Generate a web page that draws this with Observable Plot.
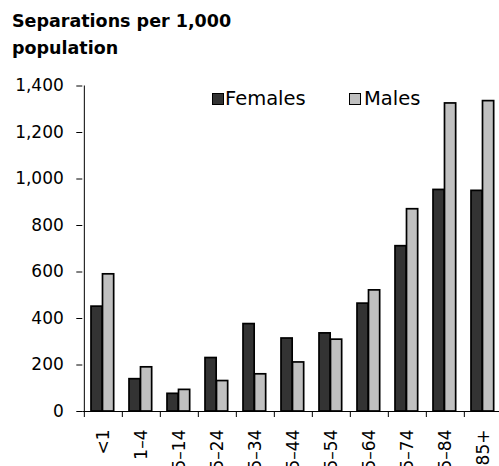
<!DOCTYPE html>
<html>
<head>
<meta charset="utf-8">
<script src="https://cdn.jsdelivr.net/npm/d3@7"></script>
<script src="https://cdn.jsdelivr.net/npm/@observablehq/plot@0.6"></script>
<style>
  body { margin: 0; background: white; }
  #wrap { position: relative; width: 499px; height: 466px; overflow: hidden; background: white; font-family: "DejaVu Sans", sans-serif; color: #000; }
  #title { position: absolute; left: 12px; top: 8.4px; font-weight: bold; font-size: 17.5px; line-height: 27px; white-space: nowrap; }
  #chart { position: absolute; left: 0; top: 62px; }
  .sw { position: absolute; width: 10px; height: 10px; border: 1.5px solid #000; }
  .lt { position: absolute; font-size: 19.5px; line-height: 20px; white-space: nowrap; }
</style>
</head>
<body>
<div id="wrap">
  <div id="title">Separations per 1,000<br>population</div>
  <div id="chart"></div>
</div>
<script>
const ages = ["<1", "1–4", "5–14", "15–24", "25–34", "35–44", "45–54", "55–64", "65–74", "75–84", "85+"];
const females = [451, 139, 76, 230, 376, 314, 336, 464, 711, 953, 949];
const males = [590, 190, 93, 131, 160, 211, 309, 521, 870, 1325, 1335];
const yTicks = [0, 200, 400, 600, 800, 1000, 1200, 1400];
const seriesNames = ["Females", "Males"];
const seriesColors = ["#333333", "#c0c0c0"];

const rows = ages.flatMap((age, i) => [
  {age, sex: seriesNames[0], value: females[i]},
  {age, sex: seriesNames[1], value: males[i]}
]);

const W = 499, H = 404, mL = 82.3, mR = -5;
const bw = (W - mL - mR) / ages.length;

const chart = Plot.plot({
  width: W,
  height: H,
  marginTop: 23.5,
  marginBottom: 55,
  marginLeft: mL,
  marginRight: mR,
  style: {fontFamily: "DejaVu Sans", fontSize: "17px", color: "#000", background: "white"},
  x: {domain: ages, padding: 0, label: null},
  y: {domain: [0, 1400], label: null},
  marks: [
    Plot.barY(rows, {filter: d => d.sex === seriesNames[0], x: "age", y: "value", fill: seriesColors[0], stroke: "#000", strokeWidth: 1.7, insetLeft: 7, insetRight: bw - 18.5}),
    Plot.barY(rows, {filter: d => d.sex === seriesNames[1], x: "age", y: "value", fill: seriesColors[1], stroke: "#000", strokeWidth: 1.7, insetLeft: 18.5, insetRight: bw - 30}),
    Plot.ruleY([0], {stroke: "#000", strokeWidth: 1}),
    Plot.ruleX([ages[0]], {y1: 0, y2: yTicks[yTicks.length - 1], dx: -bw / 2, stroke: "#000", strokeWidth: 1}),
    Plot.axisY({ticks: yTicks, tickSize: 6, tickPadding: 13, tickFormat: d3.format(","), label: null, stroke: "#000", strokeWidth: 1}),
    Plot.axisX({tickSize: 6, dx: -bw / 2, tickFormat: () => "", label: null, stroke: "#000", strokeWidth: 1}),
    Plot.axisX({tickSize: 0, tickPadding: 18, tickRotate: -90, label: null})
  ]
});
document.getElementById("chart").appendChild(chart);

// legend
const wrap = document.getElementById("wrap");
const legendPos = [{sw: 212, tx: 225}, {sw: 349, tx: 364}];
seriesNames.forEach((name, i) => {
  const s = document.createElement("div");
  s.className = "sw";
  s.style.left = legendPos[i].sw + "px";
  s.style.top = "93px";
  s.style.background = seriesColors[i];
  wrap.appendChild(s);
  const t = document.createElement("div");
  t.className = "lt";
  t.style.left = legendPos[i].tx + "px";
  t.style.top = "89.25px";
  t.textContent = name;
  wrap.appendChild(t);
});
</script>
</body>
</html>
